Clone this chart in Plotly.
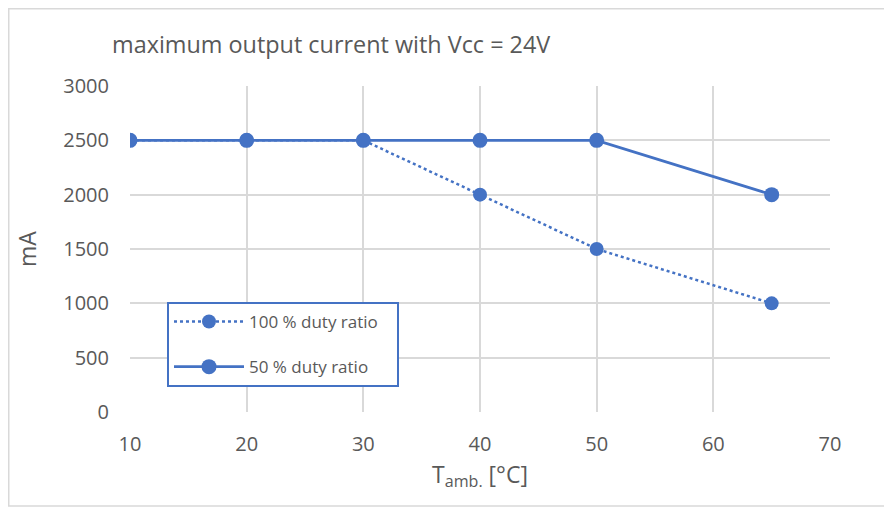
import plotly.graph_objects as go

temps = [10, 20, 30, 40, 50, 65]
duty100 = [2500, 2500, 2500, 2000, 1500, 1000]
duty50 = [2500, 2500, 2500, 2500, 2500, 2000]
series_names = ["100 % duty ratio", "50 % duty ratio"]
x_ticks = [10, 20, 30, 40, 50, 60, 70]
y_ticks = [0, 500, 1000, 1500, 2000, 2500, 3000]

blue = "#4472C4"
gray_text = "#595959"
grid = "#D9D9D9"
font_family = "Open Sans, Liberation Sans, sans-serif"

# page has 8px body margin -> figure is 884x499
W, H = 884, 499
L, R, T, B = 122, 62, 78, 95
pw, ph = W - L - R, H - T - B

fig = go.Figure()
fig.add_trace(go.Scatter(
    x=temps, y=duty100, name=series_names[0] + "\u00a0\u00a0\u00a0", mode="lines+markers",
    line=dict(color=blue, width=2.5, dash="dot"),
    marker=dict(symbol="circle", size=14, color=blue),
    legendgroup="a",
))
fig.add_trace(go.Scatter(
    x=temps, y=duty50, name=series_names[1], mode="lines+markers",
    line=dict(color=blue, width=2.75),
    marker=dict(symbol="circle", size=15, color=blue),
    legendgroup="b",
))

fig.update_layout(
    width=W, height=H,
    margin=dict(l=L, r=R, t=T, b=B, autoexpand=False),
    paper_bgcolor="white", plot_bgcolor="white",
    font=dict(family=font_family, color=gray_text, size=21),
    title=dict(text="maximum output current with Vcc = 24V", x=104 / W, xanchor="left",
               y=1 - 37 / H, yanchor="middle", font=dict(size=23.4, color=gray_text)),
    xaxis=dict(range=[10, 70], tickvals=x_ticks, showgrid=True, gridcolor=grid, gridwidth=1.5,
               zeroline=False, showline=False, ticks="", tickfont=dict(size=20),
               ticklabelstandoff=18,
               title=dict(text="T<sub>amb.</sub> [°C]", font=dict(size=23), standoff=10)),
    yaxis=dict(range=[0, 3000], tickvals=y_ticks, showgrid=True, gridcolor=grid, gridwidth=1.5,
               zeroline=False, showline=False, ticks="", tickfont=dict(size=20),
               ticklabelstandoff=20,
               title=dict(text="mA", font=dict(size=23), standoff=20)),
    legend=dict(x=(159 - L) / pw, y=(T + ph - 294) / ph, xanchor="left", yanchor="top",
                bordercolor=blue, borderwidth=2, bgcolor="white",
                font=dict(size=17, color=gray_text), tracegroupgap=20,
                traceorder="grouped", itemwidth=70),
    showlegend=True,
)

# outer chart border
fig.add_shape(type="rect", xref="paper", yref="paper",
              x0=(0.75 - L) / pw, x1=(W + 10 - L) / pw,
              y0=(T + ph - 498) / ph, y1=(T + ph - 0.75) / ph,
              line=dict(color=grid, width=1.5), layer="below")

fig.write_html("out.html")
